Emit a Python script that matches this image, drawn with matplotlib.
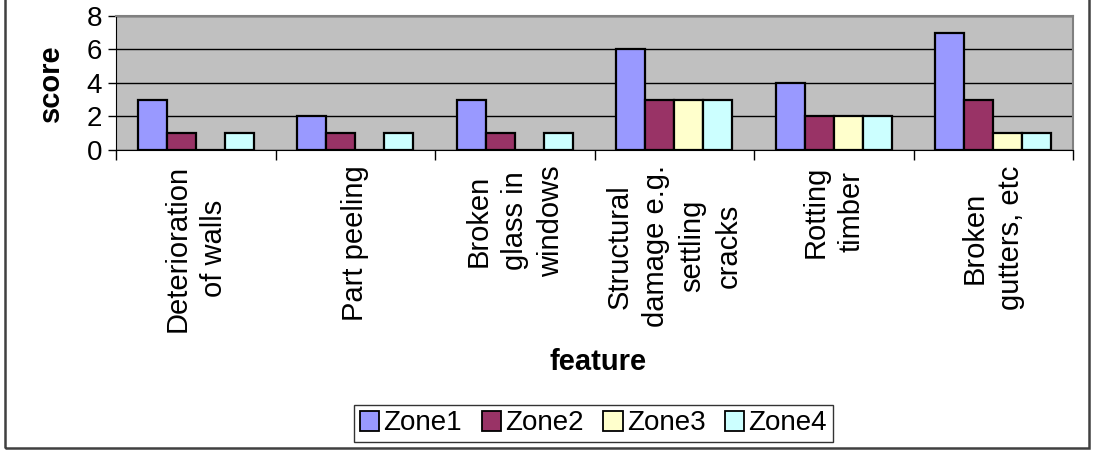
import numpy as np
import matplotlib
matplotlib.use('Agg')
from matplotlib import pyplot as plt
from matplotlib.patches import Rectangle

features = ['Deterioration\nof walls', 'Part peeling', 'Broken\nglass in\nwindows',
            'Structural\ndamage e.g.\nsettling\ncracks', 'Rotting\ntimber', 'Broken\ngutters, etc']
zones = ['Zone1', 'Zone2', 'Zone3', 'Zone4']
zone1 = [3, 2, 3, 6, 4, 7]
zone2 = [1, 1, 1, 3, 2, 3]
zone3 = [0, 0, 0, 3, 2, 1]
zone4 = [1, 1, 1, 3, 2, 1]
colors = ['#9999FF', '#993366', '#FFFFCC', '#CCFFFF']

plt.rcParams['font.family'] = ['Liberation Sans', 'DejaVu Sans']

fig = plt.figure(figsize=(10.96, 4.57), dpi=100)
ax = fig.add_axes([116/1096, 1-150/457, 957/1096, 134/457])
ax.set_facecolor('#C0C0C0')

# excel style: gap width 150% -> 4 bars + 1.5 bar of gap per category
w = 1/5.5
x = np.arange(len(features)) + 0.5
for j, vals in enumerate([zone1, zone2, zone3, zone4]):
    ax.bar(x + (j-1.5)*w, vals, w, color=colors[j], edgecolor='black',
           linewidth=1.6, label=zones[j], zorder=3)

ax.set_xlim(0, 6)
ax.set_ylim(0, 8)
ax.set_yticks([0, 2, 4, 6, 8])
ax.tick_params(axis='y', labelsize=20, length=6, width=1, direction='out', pad=4)
ax.grid(axis='y', color='black', linewidth=1, zorder=1)

ax.set_xticks(x)
ax.set_xticklabels(features, rotation=90, fontsize=21, va='top', ha='center',
                   multialignment='center', linespacing=1.38)
ax.set_xticks(np.arange(0, 7), minor=True)
ax.tick_params(axis='x', which='major', length=0, pad=11)
ax.tick_params(axis='x', which='minor', length=7, width=1, direction='out')

for s in ['top', 'right']:
    ax.spines[s].set_color('#808080')
    ax.spines[s].set_linewidth(1.5)
ax.spines['left'].set_color('black')
ax.spines['bottom'].set_color('black')

fig.text(51/1096, 1-83/457, 'score', rotation=90, ha='center', va='center',
         fontsize=21, fontweight='bold')
fig.text(598/1096, 1-362/457, 'feature', ha='center', va='center',
         fontsize=21, fontweight='bold')

leg = fig.legend(loc='center', bbox_to_anchor=(593.5/1096, 1-423.5/457), ncol=4,
                 fontsize=20, frameon=True, fancybox=False, edgecolor='black',
                 handlelength=0.7, handleheight=0.7, handletextpad=0.15,
                 columnspacing=0.7, borderpad=0.2, borderaxespad=0)
leg.get_frame().set_linewidth(1)
for h in leg.legend_handles:
    h.set_linewidth(1.3)

# outer chart border, top edge off the canvas
fig.patches.append(Rectangle((5/1096, 1-448/457), 1084/1096, 460/457,
                             transform=fig.transFigure, fill=False,
                             edgecolor='#404040', linewidth=1.8))

plt.savefig('out.png', dpi=100)
